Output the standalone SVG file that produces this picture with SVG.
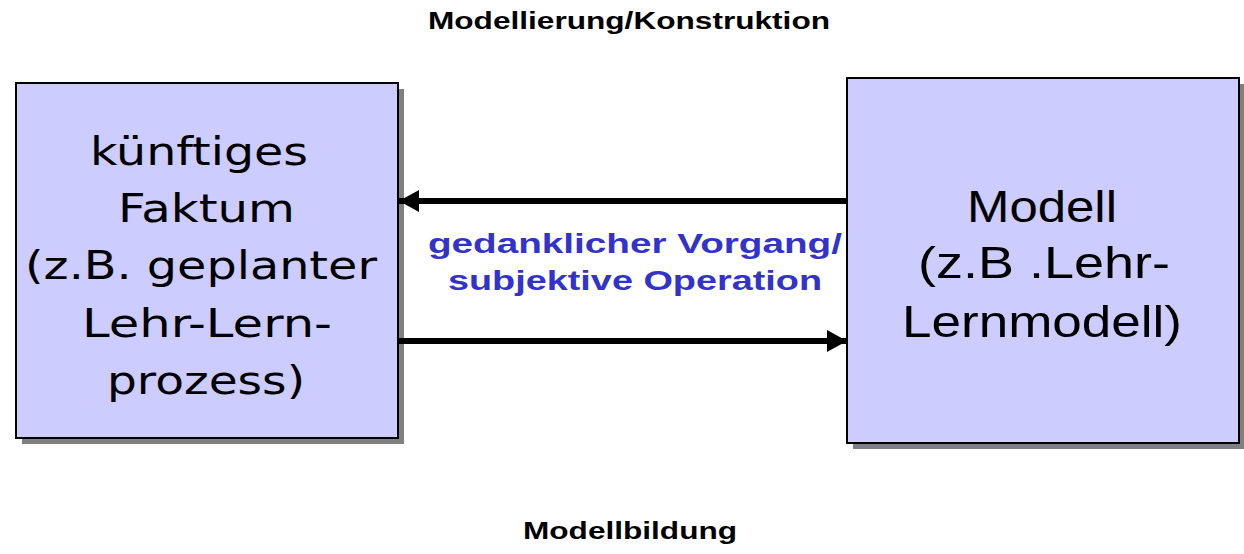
<svg xmlns="http://www.w3.org/2000/svg" width="1244" height="554" viewBox="0 0 1244 554">
<style>
.box{fill:#CCCCFF;stroke:#000;stroke-width:2}
.shadow{fill:#808080}
.big{font-family:"DejaVu Sans",Verdana,sans-serif;font-size:39px;fill:#000}
.bigr{font-family:"Liberation Sans",Arial,sans-serif;font-size:44px;fill:#000}
.title{font-family:"Liberation Sans",Arial,sans-serif;font-weight:bold;font-size:23px;fill:#000}
.blue{font-family:"Liberation Sans",Arial,sans-serif;font-weight:bold;font-size:27px;fill:#3333CC}
.conn{stroke:#000;stroke-width:6;fill:none}
</style>
<defs>
<marker id="ah" markerUnits="userSpaceOnUse" markerWidth="20" markerHeight="22" refX="20" refY="11" orient="auto">
<path d="M0,0 L20,11 L0,22 Z" fill="#000"/>
</marker>
</defs>
<rect width="1244" height="554" fill="#fff"/>
<text class="title" x="428" y="29" textLength="402" lengthAdjust="spacingAndGlyphs">Modellierung/Konstruktion</text>
<g id="node-faktum">
<rect class="shadow" x="22" y="89" width="382" height="355"/>
<rect class="box" x="16" y="83" width="382" height="355"/>
<text class="big" x="90" y="165" textLength="218" lengthAdjust="spacingAndGlyphs">künftiges</text>
<text class="big" x="118" y="222" textLength="177" lengthAdjust="spacingAndGlyphs">Faktum</text>
<text class="big" x="25" y="279" textLength="352" lengthAdjust="spacingAndGlyphs">(z.B. geplanter</text>
<text class="big" x="82" y="337" textLength="250" lengthAdjust="spacingAndGlyphs">Lehr-Lern-</text>
<text class="big" x="107" y="394" textLength="198" lengthAdjust="spacingAndGlyphs">prozess)</text>
</g>
<g id="node-modell">
<rect class="shadow" x="853" y="84" width="392" height="365"/>
<rect class="box" x="847" y="78" width="392" height="365"/>
<text class="bigr" x="967" y="222" textLength="150" lengthAdjust="spacingAndGlyphs">Modell</text>
<text class="bigr" x="918" y="278" textLength="252" lengthAdjust="spacingAndGlyphs">(z.B .Lehr-</text>
<text class="bigr" x="902" y="337" textLength="280" lengthAdjust="spacingAndGlyphs">Lernmodell)</text>
</g>
<g id="connectors">
<line class="conn" x1="847" y1="201" x2="399" y2="201" marker-end="url(#ah)"/>
<line class="conn" x1="399" y1="341" x2="847" y2="341" marker-end="url(#ah)"/>
</g>
<text class="blue" x="428" y="253" textLength="414" lengthAdjust="spacingAndGlyphs">gedanklicher Vorgang/</text>
<text class="blue" x="448" y="290" textLength="374" lengthAdjust="spacingAndGlyphs">subjektive Operation</text>
<text class="title" x="523" y="539" textLength="214" lengthAdjust="spacingAndGlyphs">Modellbildung</text>
</svg>
